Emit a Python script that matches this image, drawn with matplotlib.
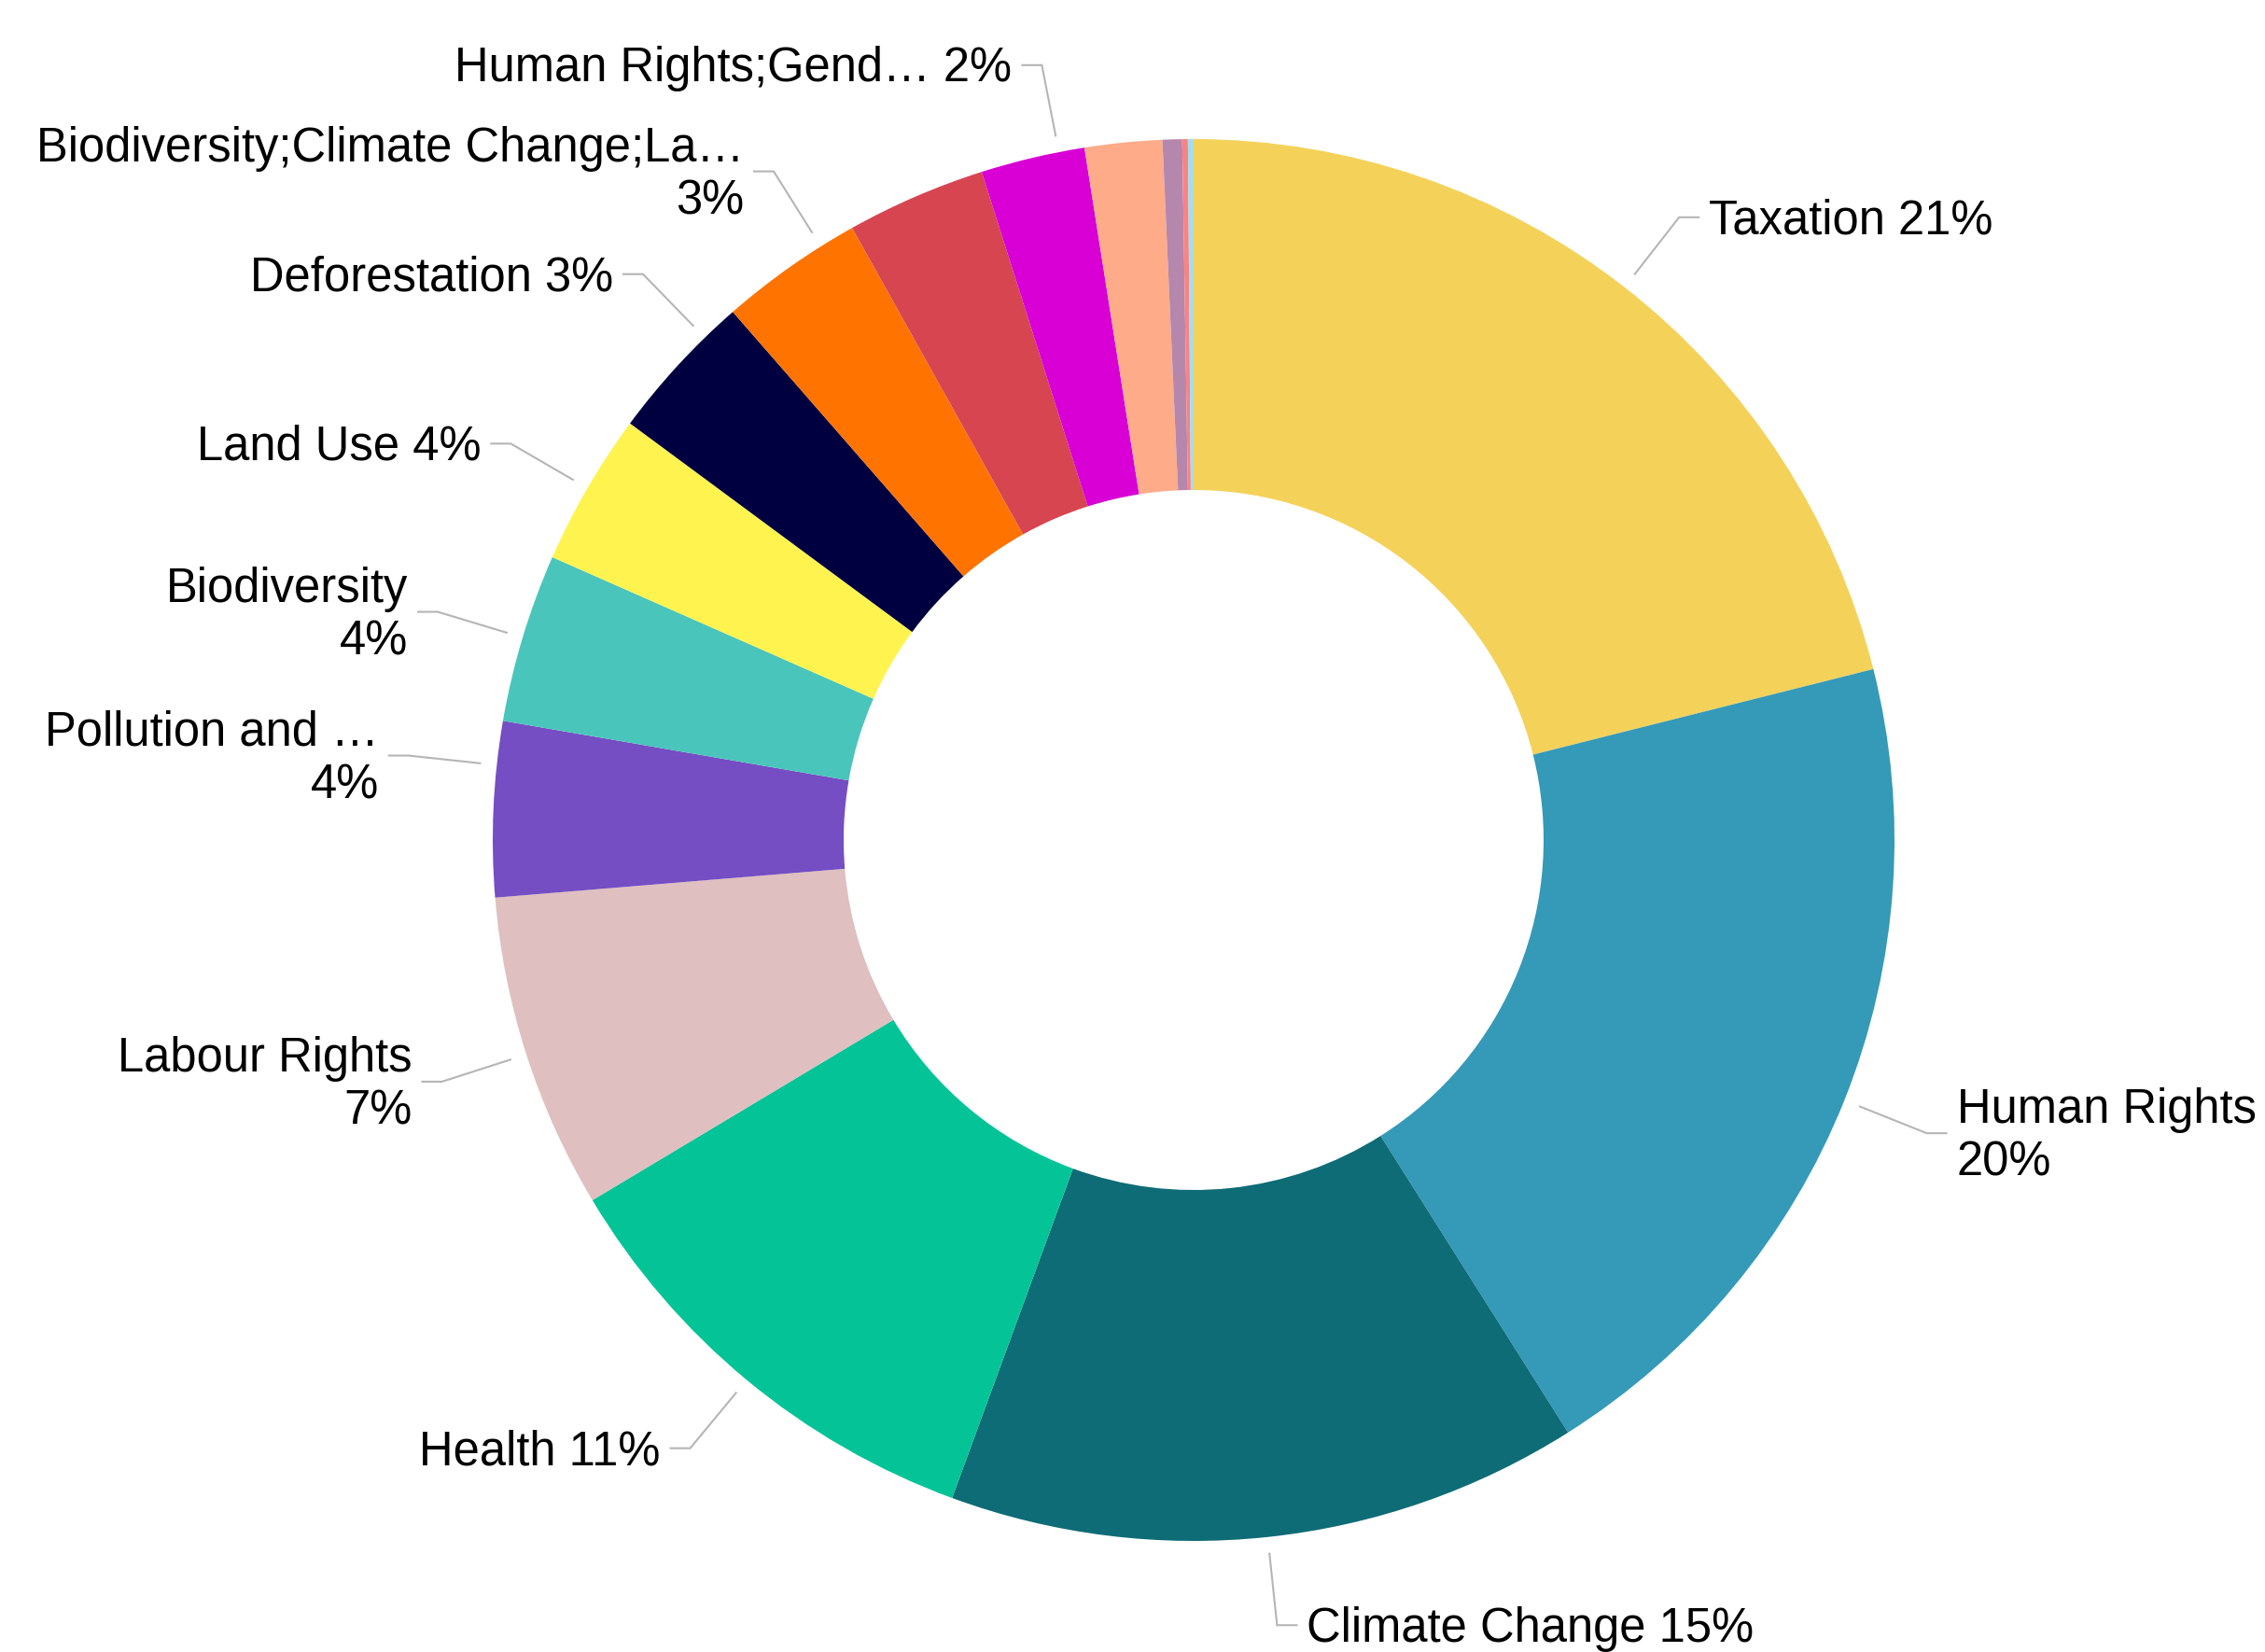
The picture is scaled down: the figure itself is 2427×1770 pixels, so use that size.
import numpy as np
import matplotlib
matplotlib.use("Agg")
import matplotlib.pyplot as plt

plt.rcParams['font.family'] = ['Liberation Sans', 'DejaVu Sans']

# slice data, clockwise from 12 o'clock (shares in %)
topics = ["Taxation", "Human Rights", "Climate Change", "Health", "Labour Rights",
          "Pollution and …", "Biodiversity", "Land Use", "Deforestation",
          "Biodiversity;Climate Change;La…", None, "Human Rights;Gend…",
          None, None, None, None]
shares = [21.08, 19.95, 14.57, 10.81, 7.28, 4.03, 3.89, 3.52, 3.45, 3.32,
          3.21, 2.40, 1.78, 0.45, 0.13, 0.13]
colors = ["#F4D25A", "#3599B8", "#0E6C76", "#04C497", "#DFBFBF", "#744EC2",
          "#4AC5BB", "#FFF44F", "#000040", "#FF7300", "#D64550", "#D800D4",
          "#FDAB89", "#B687AC", "#FB8281", "#A4DDEE"]

# label layout
two_line = {"Human Rights", "Labour Rights", "Pollution and …", "Biodiversity",
            "Biodiversity;Climate Change;La…"}
nudge = {"Pollution and …": 3.6, "Deforestation": 3.1,
         "Biodiversity;Climate Change;La…": 3.0, "Human Rights;Gend…": 2.2}

W, H = 2427, 1770
cx, cy = 1279, H - 900
R = 751

fig = plt.figure(figsize=(W / 100, H / 100), dpi=100)
ax = fig.add_axes([0, 0, 1, 1])
ax.pie(shares, colors=colors, startangle=90, counterclock=False,
       radius=R, center=(cx, cy),
       wedgeprops=dict(width=376, linewidth=0))
ax.set_xlim(0, W)
ax.set_ylim(0, H)
ax.set_aspect('equal')
ax.axis('off')

total = sum(shares)
cum = 0
for name, v in zip(topics, shares):
    mid = (cum + v / 2) / total * 360
    cum += v
    if name is None:
        continue
    a = np.radians(mid + nudge.get(name, 0))
    x0, y0 = cx + R * 1.024 * np.sin(a), cy + R * 1.024 * np.cos(a)
    x1, y1 = cx + R * 1.1265 * np.sin(a), cy + R * 1.1265 * np.cos(a)
    right = np.sin(a) >= 0
    s = 1 if right else -1
    x2 = x1 + s * 21
    ax.plot([x0, x1, x2], [y0, y1, y1], color='#b5b5b5', lw=1.5,
            solid_joinstyle='miter')
    sep = "\n" if name in two_line else " "
    txt = f"{name}{sep}{round(v / total * 100)}%"
    ax.text(x2 + s * 11, y1 - 4, txt, fontsize=36.5, color='black',
            ha='left' if right else 'right', va='center',
            multialignment='left' if right else 'right', linespacing=1.2)

fig.savefig("out.png", dpi=100)
